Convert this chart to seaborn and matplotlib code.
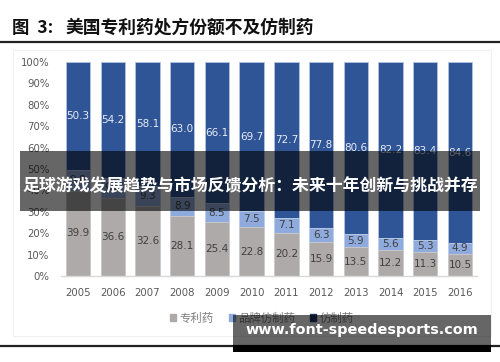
import matplotlib
matplotlib.use("Agg")
import matplotlib.pyplot as plt
import matplotlib.patches as mpatches
import matplotlib.lines as mlines
import seaborn as sns
import numpy as np

# --- data ---
years = ["2005", "2006", "2007", "2008", "2009", "2010",
         "2011", "2012", "2013", "2014", "2015", "2016"]
patent = [39.9, 36.6, 32.6, 28.1, 25.4, 22.8, 20.2, 15.9, 13.5, 12.2, 11.3, 10.5]
brand_generic = [9.8, 9.2, 9.3, 8.9, 8.5, 7.5, 7.1, 6.3, 5.9, 5.6, 5.3, 4.9]
generic = [50.3, 54.2, 58.1, 63.0, 66.1, 69.7, 72.7, 77.8, 80.6, 82.2, 83.4, 84.6]
series_names = ["专利药", "品牌仿制药", "仿制药"]
y_ticks = [0, 10, 20, 30, 40, 50, 60, 70, 80, 90, 100]

title_num = "图  3:"
title = "美国专利药处方份额不及仿制药"
banner = "足球游戏发展趋势与市场反馈分析：未来十年创新与挑战并存"
watermark = "www.font-speedesports.com"

C_PAT = "#aeaaaa"
C_BRAND = "#8faadc"
C_GEN = "#2f5597"

sns.set_theme(style="white")
plt.rcParams["font.family"] = ["Noto Sans CJK SC", "DejaVu Sans"]

W, H = 500, 362
fig = plt.figure(figsize=(5, 3.62), dpi=100)

def fx(px):
    return px / W

def fy(py):
    return 1 - py / H

# faint chart-area frame
fig.add_artist(mpatches.Rectangle((fx(13), fy(336)), fx(478), (336 - 50) / H,
                                  transform=fig.transFigure, fill=False,
                                  edgecolor="#f0f0f0", lw=0.8))

ax = fig.add_axes([fx(60.6), fy(276), fx(416.8), 214 / H])

pat = np.array(patent)
bg = np.array(brand_generic)
gen = np.array(generic)
lower = pat + bg
total = lower + gen

# stacked by overdrawing cumulative heights
sns.barplot(x=years, y=total, color=C_GEN, width=0.7, saturation=1,
            errorbar=None, edgecolor="#b4c3e0", linewidth=0.6, ax=ax)
sns.barplot(x=years, y=lower, color=C_BRAND, width=0.7, saturation=1,
            errorbar=None, edgecolor="#c5d3ec", linewidth=0.6, ax=ax)
sns.barplot(x=years, y=pat, color=C_PAT, width=0.7, saturation=1,
            errorbar=None, edgecolor="#cfcccc", linewidth=0.6, ax=ax)

for i in range(len(years)):
    ax.text(i, pat[i] / 2, f"{pat[i]:.1f}", ha="center", va="center",
            fontsize=7.5, color="#404040", family="DejaVu Sans")
    ax.text(i, pat[i] + bg[i] / 2, f"{bg[i]:.1f}", ha="center", va="center",
            fontsize=7.5, color="#404040", family="DejaVu Sans")
    ax.text(i, lower[i] + gen[i] / 2, f"{gen[i]:.1f}", ha="center", va="center",
            fontsize=7.5, color="#e8ecf5", family="DejaVu Sans")

ax.set_xlim(-0.5, len(years) - 0.5)
ax.set_ylim(0, 100)
ax.set_yticks(y_ticks)
ax.set_yticklabels([f"{t}%" for t in y_ticks])
ax.set_xlabel("")
ax.set_ylabel("")
ax.tick_params(axis="both", length=0, labelsize=7.3, colors="#595959")
ax.tick_params(axis="y", pad=8)
ax.tick_params(axis="x", pad=9)
for lab in ax.get_xticklabels() + ax.get_yticklabels():
    lab.set_family("DejaVu Sans")
for s in ["top", "right", "left"]:
    ax.spines[s].set_visible(False)
ax.spines["bottom"].set_color("#d9d9d9")
ax.spines["bottom"].set_linewidth(1.0)

# legend
handles = [mpatches.Patch(color=c, label=n)
           for c, n in zip([C_PAT, C_BRAND, "#1f3864"], series_names)]
leg = fig.legend(handles=handles, loc="center", bbox_to_anchor=(fx(262), fy(318)),
                 ncol=3, frameon=False, fontsize=8.2, handlelength=0.55,
                 handleheight=0.55, handletextpad=0.3, columnspacing=1.3)
for t in leg.get_texts():
    t.set_color("#808080")

# title and rules
fig.text(fx(12), fy(28), title_num, fontsize=12.5, fontweight="bold",
         color="#111111", ha="left", va="center")
fig.text(fx(66), fy(28), title, fontsize=12.8, fontweight="bold",
         color="#111111", ha="left", va="center")
fig.add_artist(mlines.Line2D([0, 1], [fy(42), fy(42)], color="#222222", lw=1.6,
                             transform=fig.transFigure))
fig.add_artist(mlines.Line2D([0, 1], [fy(346), fy(346)], color="#222222", lw=1.6,
                             transform=fig.transFigure))

# banner overlay
fig.add_artist(mpatches.Rectangle((fx(20), fy(211)), fx(460), 60 / H,
                                  transform=fig.transFigure, color="black",
                                  alpha=0.6, lw=0, zorder=10))
fig.text(fx(250), fy(186), banner, fontsize=12.2, fontweight="bold",
         color="white", ha="center", va="center", zorder=11)

# watermark
fig.add_artist(mpatches.Rectangle((fx(233), fy(345)), fx(258), 30 / H,
                                  transform=fig.transFigure, color="black",
                                  alpha=0.6, lw=0, zorder=10))
fig.add_artist(mpatches.Rectangle((fx(233), fy(352)), fx(258), 7 / H,
                                  transform=fig.transFigure, color="black",
                                  lw=0, zorder=10))
fig.text(fx(362), fy(330), watermark, fontsize=10.4, fontweight="bold",
         color="white", ha="center", va="center", zorder=11,
         family="DejaVu Sans")

fig.savefig("out.png", dpi=100)
